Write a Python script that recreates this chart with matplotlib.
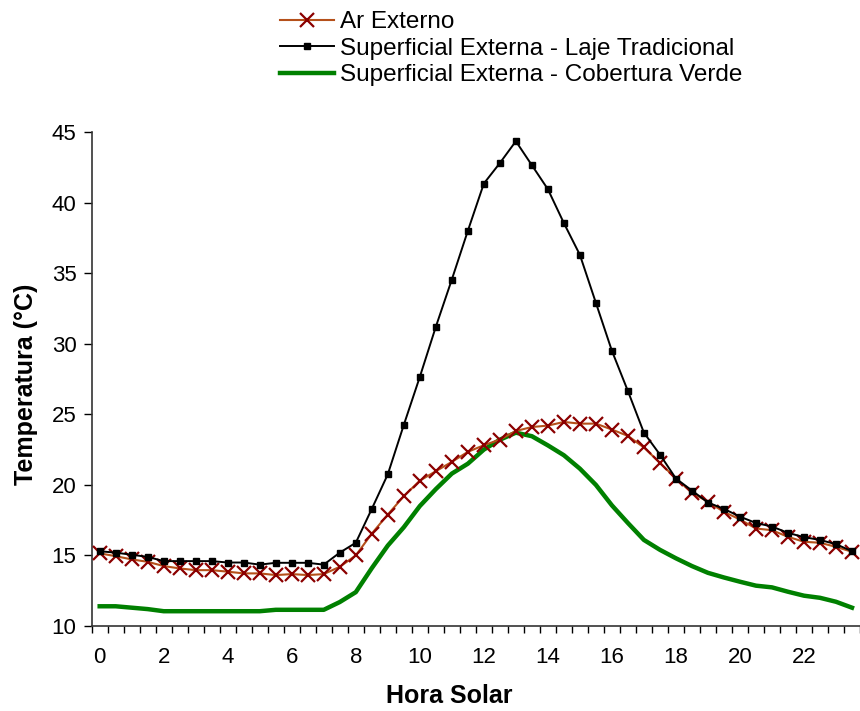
import numpy as np
import matplotlib
matplotlib.use("Agg")
import matplotlib.pyplot as plt

plt.rcParams['font.family'] = ['Liberation Sans', 'DejaVu Sans']

# hora solar, de meia em meia hora
hours = [h / 2 for h in range(48)]

ar_externo = [15.15, 14.95, 14.72, 14.55, 14.25, 14.08, 13.96, 13.96, 13.85, 13.73,
              13.73, 13.61, 13.68, 13.61, 13.68, 14.2, 15.0, 16.55, 17.9, 19.2,
              20.3, 20.97, 21.63, 22.34, 22.81, 23.21, 23.82, 24.1, 24.2, 24.46,
              24.34, 24.34, 23.92, 23.47, 22.65, 21.56, 20.45, 19.45, 18.8, 18.09,
              17.55, 16.91, 16.79, 16.32, 15.97, 15.9, 15.61, 15.26]

laje_tradicional = [15.3, 15.2, 15.05, 14.9, 14.6, 14.6, 14.6, 14.6, 14.5, 14.5,
                    14.35, 14.48, 14.48, 14.48, 14.35, 15.2, 15.9, 18.3, 20.75, 24.25,
                    27.65, 31.2, 34.55, 38.0, 41.35, 42.8, 44.35, 42.65, 40.95, 38.55,
                    36.3, 32.9, 29.5, 26.65, 23.7, 22.15, 20.45, 19.6, 18.75, 18.3,
                    17.75, 17.3, 17.05, 16.6, 16.3, 16.1, 15.8, 15.3]

cobertura_verde = [11.4, 11.4, 11.3, 11.2, 11.05, 11.05, 11.05, 11.05, 11.05, 11.05,
                   11.05, 11.15, 11.15, 11.15, 11.15, 11.7, 12.4, 14.1, 15.7, 17.0,
                   18.5, 19.7, 20.8, 21.5, 22.5, 23.2, 23.7, 23.45, 22.8, 22.1,
                   21.15, 20.0, 18.55, 17.3, 16.1, 15.4, 14.8, 14.25, 13.77, 13.44,
                   13.14, 12.86, 12.74, 12.43, 12.15, 12.0, 11.72, 11.3]

x_labels = [0, 2, 4, 6, 8, 10, 12, 14, 16, 18, 20, 22]
y_ticks = [10, 15, 20, 25, 30, 35, 40, 45]

fig = plt.figure(figsize=(8.6, 7.11), dpi=100)
ax = fig.add_axes([0.1066, 0.1195, 0.8934, 0.6948])

ax.plot(hours, ar_externo, color='#B5501A', linewidth=1.5, marker='x',
        markersize=10, markeredgewidth=1.6, markeredgecolor='#8B0000',
        label='Ar Externo', zorder=3)
ax.plot(hours, laje_tradicional, color='black', linewidth=1.4, marker='s',
        markersize=5, label='Superficial Externa - Laje Tradicional', zorder=4)
ax.plot(hours, cobertura_verde, color='#008000', linewidth=3.2,
        label='Superficial Externa - Cobertura Verde', zorder=2)

ax.set_xlim(-0.25, 23.75)
ax.set_ylim(10, 45)
ax.set_yticks(y_ticks)
ax.set_xticks(x_labels)
ax.set_xticks([-0.25 + 0.5 * k for k in range(49)], minor=True)

ax.tick_params(axis='x', which='major', length=0, pad=15, labelsize=16)
ax.tick_params(axis='x', which='minor', length=5, width=1, direction='out')
ax.tick_params(axis='y', length=6, width=1, pad=5, labelsize=16)

for side in ['top', 'right']:
    ax.spines[side].set_visible(False)
for side in ['left', 'bottom']:
    ax.spines[side].set_linewidth(1.2)
    ax.spines[side].set_color('#333333')

ax.set_xlabel('Hora Solar', fontsize=18, fontweight='bold')
ax.xaxis.set_label_coords(0.465, -0.118)
ax.set_ylabel('Temperatura (°C)', fontsize=18, fontweight='bold')
ax.yaxis.set_label_coords(-0.07, 0.49)

fig.legend(loc='upper left', bbox_to_anchor=(0.326, 0.984), frameon=False,
           fontsize=17.5, handlelength=2.2, handletextpad=0.25,
           labelspacing=0.18, borderpad=0, borderaxespad=0)

plt.savefig('out.png', dpi=100)
